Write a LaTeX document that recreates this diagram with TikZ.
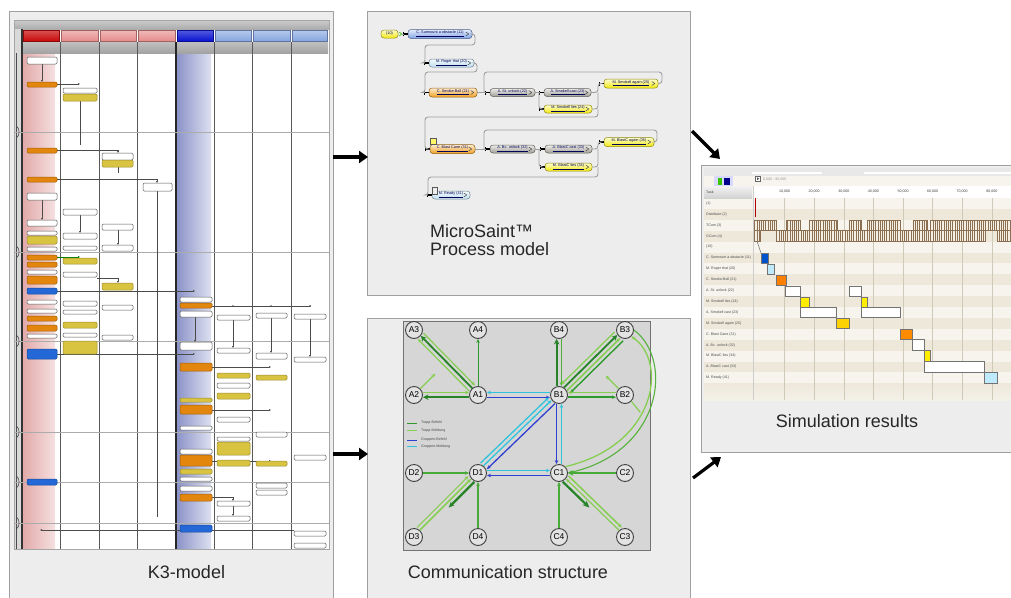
\documentclass[tikz,border=0pt]{standalone}
\usepackage{fontspec}
\setmainfont{Liberation Sans}
\usetikzlibrary{arrows.meta,calc,patterns.meta}

\definecolor{panelbg}{HTML}{EDEDED}
\definecolor{panelbd}{HTML}{A0A0A0}
\definecolor{korange}{HTML}{E2860E}
\definecolor{kyellow}{HTML}{D9C441}
\definecolor{kblue}{HTML}{2468D8}
\definecolor{kline}{HTML}{4A4A4A}
\definecolor{hdrR}{HTML}{C80A0A}
\definecolor{hdrr}{HTML}{E68C8C}
\definecolor{hdrB}{HTML}{0A14D0}
\definecolor{hdrb}{HTML}{86A6E0}
\definecolor{kpl}{HTML}{E2AAAA}
\definecolor{kpr}{HTML}{F6E0E0}
\definecolor{kbl}{HTML}{8C94C8}
\definecolor{kbr}{HTML}{DDE0F0}
\definecolor{tbC}{HTML}{2E9A2E}
\definecolor{tmC}{HTML}{86CE50}
\definecolor{gbC}{HTML}{2F3FD0}
\definecolor{gmC}{HTML}{30C4DC}
\definecolor{msgray}{HTML}{A09E94}
\definecolor{msorange}{HTML}{F0A020}
\definecolor{msyellow}{HTML}{F2EA10}
\definecolor{msblue}{HTML}{7EA2E6}
\definecolor{mslblue}{HTML}{BFE0F0}
\definecolor{beige}{HTML}{EDE8DA}
\definecolor{gridc}{HTML}{CFC9B8}
\definecolor{hatch}{HTML}{8C6E50}

\begin{document}
\begin{tikzpicture}[x=1pt,y=-1pt,
  panel/.style={fill=panelbg, draw=panelbd, line width=1pt},
  captext/.style={font=\fontsize{18}{20}\selectfont, text=black!85, inner sep=0pt},
  bigarrow/.style={line width=3.2pt, -{Triangle[length=9pt,width=12pt]}},
  kw/.style={draw=gray!70!black, fill=white, line width=0.5pt, rounded corners=1.2pt},
  ko/.style={draw=korange!70!black, fill=korange, line width=0.5pt, rounded corners=1.2pt},
  ky/.style={draw=kyellow!70!black, fill=kyellow, line width=0.5pt, rounded corners=1.2pt},
  kb/.style={draw=kblue!70!black, fill=kblue, line width=0.5pt, rounded corners=1.2pt},
  kconn/.style={draw=kline, line width=0.5pt, -{Latex[length=2pt,width=2pt]}},
  msnode/.style={draw=#1!60!black, top color=#1!20!white, bottom color=#1, rounded corners=3pt,
     inner sep=0pt, font=\fontsize{3.8}{4}\selectfont, text=blue!35!black, line width=0.5pt},
  msline/.style={draw=gray!75, line width=0.9pt, rounded corners=3pt},
  cnode/.style={circle, draw=black!75, fill=gray!22, line width=0.9pt, minimum size=17pt, inner sep=0pt,
     font=\fontsize{8.5}{9}\selectfont},
  eA/.style={-{Stealth[length=4pt,width=3.5pt]}},
  tb/.style={eA, draw=tbC, line width=1.4pt},
  tbT/.style={draw=tbC!85!black, line width=2.2pt, -{Stealth[length=5.5pt,width=5.5pt]}},
  tm/.style={eA, draw=tmC, line width=1.2pt},
  gb/.style={eA, draw=gbC, line width=1.3pt},
  gm/.style={eA, draw=gmC, line width=1.3pt},
  simlab/.style={anchor=west, inner sep=0pt, font=\fontsize{3.6}{4}\selectfont, text=black!70},
  gbox/.style={draw=black!55, line width=0.7pt}
]
\useasboundingbox (0,0) rectangle (1011,597);
\fill[white] (0,0) rectangle (1011,597);

%%%%%%%%%%%%%%%% K3 panel
\draw[panel] (9,11) rectangle (333,612);
\fill[white] (14,20) rectangle (329,549);
\shade[top color=gray!40, bottom color=gray!65] (14,20) rectangle (329,29);
\fill[gray!30] (14,29) rectangle (22,549);
\shade[left color=kpl, right color=kpr] (23,53) rectangle (55,549);
\shade[left color=kbl, right color=kbr] (177,53) rectangle (211,549);
\foreach \xa/\xb/\ca/\cb in {22/60/hdrR/hdrR!70!white, 60/99/hdrr/hdrr!60!white, 99/137/hdrr/hdrr!60!white,
   137/176/hdrr/hdrr!60!white, 176/214/hdrB/hdrB!70!white, 214/252/hdrb/hdrb!60!white,
   252/291/hdrb/hdrb!60!white, 291/328/hdrb/hdrb!60!white}
  \shade[top color=\cb, bottom color=\ca, draw=\ca!70!black, line width=0.4pt] (\xa+1,30) rectangle (\xb-1,41);
\shade[top color=gray!50, bottom color=gray!72] (22,42) rectangle (328,53);
\foreach \x in {60,99,137,214,252,291}
  \draw[black!65, line width=1pt] (\x,42) -- (\x,549);
\draw[black!80, line width=1.4pt] (22,29) -- (22,549);
\draw[black!85, line width=1.4pt] (176,42) -- (176,549);
\draw[gray!60!black, line width=0.8pt] (16.5,53) -- (16.5,549);
\foreach \y in {132,252,341,432,482,523}{
  \draw[gray!65, line width=0.7pt] (14,\y) -- (329,\y);
  \draw[gray!60!black, line width=0.6pt] (16.5,\y-6) .. controls (20,\y-3) and (20,\y+3) .. (16.5,\y+6);
}
\draw[gray!70] (14,20) rectangle (329,549);

% K3 connectors
\draw[kconn] (42,64) -- (42,82);
\draw[kconn] (57,84) -- (80,84);
\draw[kline, line width=0.5pt] (80,101) -- (80,145);
\draw[kconn] (57,150) -- (118,150) -- (118,153);
\draw[kline, line width=0.5pt] (118,167) -- (118,173);
\draw[kconn] (57,179) -- (157,179) -- (157,183);
\draw[kline, line width=0.5pt] (157,191) -- (157,517);
\draw[kconn] (42,200) -- (42,220);
\draw[kconn] (80,215) -- (80,233);
\draw[kconn] (118,230) -- (118,245);
\draw[kconn, draw=green!50!black] (57,257) -- (80,257);
\draw[kconn] (97,278) -- (118,278) -- (118,283);
\draw[kconn] (57,291) -- (195,291);
\draw[kconn] (195,317) -- (195,342);
\draw[kline, line width=0.5pt] (212,306) -- (310,306);
\foreach \x in {233,271,310} \fill[kline] (\x,306) circle (1pt);
\draw[kconn] (233,320) -- (233,348);
\draw[kconn] (271,318) -- (271,353);
\draw[kconn] (310,319) -- (310,357);
\draw[kconn] (57,354) -- (195,354);
\draw[kconn] (212,367) -- (271,367);
\draw[kconn] (212,410) -- (271,410);
\draw[kconn] (212,461) -- (271,461);
\draw[kconn] (212,497) -- (233,497) -- (233,501);
\draw[kconn] (233,506) -- (233,516);
\draw[kconn] (294,530) -- (40,530);

% K3 boxes
\foreach \a/\b/\c/\d/\st in {
 27/57/57/64/kw, 27/82/57/87/ko, 27/148/57/153/ko, 27/177/57/182/ko, 27/193/57/200/kw,
 27/220/57/226/kw, 27/231/57/235/kw, 27/236/57/244/ky, 27/247/57/251/kw, 27/255/57/260/ko,
 27/262/57/267/ko, 27/270/57/274/kw, 27/276/57/284/ko, 27/288/57/294/kb, 27/300/57/304/kw,
 27/309/57/313/kw, 27/316/57/321/ko, 27/325/57/331/ko, 27/334/57/338/kw, 27/349/57/359/kb,
 27/479/57/485/kb,
 63/88/97/93/kw, 63/94/97/101/ky, 63/209/97/215/kw, 63/233/97/239/kw, 63/246/97/250/kw,
 63/258/97/264/ky, 63/272/97/277/kw, 63/301/97/306/kw, 63/310/97/314/kw, 63/322/97/328/ky,
 63/333/97/337/kw, 63/341/97/354/ky,
 102/153/133/160/kw, 102/160/133/167/ky, 102/224/133/230/kw, 102/245/133/251/kw,
 102/283/133/290/ky, 102/305/133/310/kw, 102/335/133/340/kw,
 143/183/172/191/kw,
 180/297/212/302/kw, 180/303/212/308/ko, 180/311/212/317/kw, 180/342/212/350/kw,
 180/363/212/371/ko, 180/398/212/402/ky, 180/405/212/414/ko, 180/426/212/430/kw,
 180/449/212/454/kw, 180/455/212/466/ko, 180/469/212/474/ky, 180/477/212/481/kw,
 180/486/212/491/kw, 180/494/212/501/ko, 180/525/212/532/kb,
 217/315/250/320/kw, 217/348/250/353/kw, 217/373/250/378/ky, 217/383/250/388/kw,
 217/393/250/399/ky, 217/417/250/422/kw, 217/437/250/441/kw, 217/442/250/455/ky,
 217/460/250/466/ky, 217/501/250/506/kw, 217/516/250/521/kw,
 256/313/287/318/kw, 256/353/287/359/kw, 256/375/287/380/ky, 256/432/287/437/kw,
 256/461/287/466/ky, 256/483/287/488/kw, 256/490/287/495/kw,
 294/314/326/319/kw, 294/357/326/362/kw, 294/455/326/460/kw, 294/531/326/536/kw,
 294/543/326/548/kw}
 \path[\st] (\a,\b) rectangle (\c,\d);

\node[captext, anchor=base] (k3cap) at (186.5,578) {K3-model};

%%%%%%%%%%%%%%%% MicroSaint panel
\draw[panel] (367,11) rectangle (690,295);
\node[msnode=msyellow, minimum width=17pt, minimum height=8pt] (s10) at (389.5,34) {(10)};
\node[msnode=msblue, minimum width=64pt, minimum height=9pt] (s11) at (440,34) {\underline{C. Surmount a obstacle (11)}\hspace{6pt}};
\node[msnode=mslblue, minimum width=45pt, minimum height=8pt] (s20) at (451.5,63) {\underline{M. Roger that (20)}\hspace{6pt}};
\node[msnode=msorange, minimum width=48pt, minimum height=9pt] (s21) at (453,92.5) {\underline{C. Smoke-Ball (21)}\hspace{6pt}};
\node[msnode=msgray, minimum width=45pt, minimum height=8pt] (s22) at (512.5,92.5) {\underline{A. St. unlock (22)}\hspace{6pt}};
\node[msnode=msgray, minimum width=47pt, minimum height=8pt] (s23) at (567.5,92.5) {\underline{A. Smokell cast (23)}\hspace{6pt}};
\node[msnode=msyellow, minimum width=48pt, minimum height=8pt] (s24) at (568,109) {\underline{M. Smokell lies (24)}\hspace{6pt}};
\node[msnode=msyellow, minimum width=54pt, minimum height=9pt] (s25) at (631,83.5) {\underline{M. Smokell again (25)}\hspace{6pt}};
\node[msnode=msorange, minimum width=45pt, minimum height=9pt] (s31) at (452.5,149) {\underline{C. Blast Cane (31)}\hspace{6pt}};
\node[msnode=msgray, minimum width=45pt, minimum height=8pt] (s32) at (512.5,149) {\underline{A. Bc. unlock (32)}\hspace{6pt}};
\node[msnode=msgray, minimum width=47pt, minimum height=8pt] (s33) at (568.5,149) {\underline{A. BlastC cast (33)}\hspace{6pt}};
\node[msnode=msyellow, minimum width=47pt, minimum height=8pt] (s34) at (568.5,167) {\underline{M. BlastC lies (34)}\hspace{6pt}};
\node[msnode=msyellow, minimum width=50pt, minimum height=9pt] (s35) at (629,142) {\underline{M. BlastC again (35)}\hspace{6pt}};
\node[msnode=mslblue, minimum width=38pt, minimum height=8pt] (s41) at (451,195) {\underline{M. Ready (41)}\hspace{6pt}};

\foreach \n in {s11,s20,s21,s22,s23,s24,s25,s31,s32,s33,s34,s35,s41}{
  \draw[gray!60!black, line width=0.5pt] ([xshift=-6.5pt,yshift=2pt]\n.east) -- ([xshift=-3.5pt]\n.east) -- ([xshift=-6.5pt,yshift=-2pt]\n.east);
  \draw[black, line width=1.1pt] ([xshift=-4pt]\n.west) -- (\n.west);
  \draw[black, line width=0.8pt] ([xshift=-4pt,yshift=-2pt]\n.west) -- ([xshift=-4pt,yshift=2pt]\n.west);
}
\draw[green!50!olive, line width=0.6pt] ([xshift=1pt,yshift=2pt]s10.east) -- ([xshift=3.5pt]s10.east) -- ([xshift=1pt,yshift=-2pt]s10.east);

\draw[msline] ([xshift=4pt]s10.east) -- ([xshift=-4pt]s11.west);
\draw[msline] (s11.east) -- (475,34) -- (475,45) -- (425,45) -- (425,63) -- ([xshift=-4pt]s20.west);
\draw[msline] (s20.east) -- (477,63) -- (477,72) -- (425,72) -- (425,92.5) -- ([xshift=-4pt]s21.west);
\draw[msline] (s21.east) -- ([xshift=-4pt]s22.west);
\draw[msline] (484,92.5) -- (484,72) -- (662,72) -- (662,83.5) -- (s25.east);
\draw[msline] (s22.east) -- ([xshift=-4pt]s23.west);
\draw[msline] (539,92.5) -- (539,109) -- ([xshift=-4pt]s24.west);
\draw[msline] (s23.east) -- (598,92.5) -- (598,83.5) -- ([xshift=-4pt]s25.west);
\draw[msline] (s24.east) -- (598,109) -- (598,92.5);
\draw[msline] (598,109) -- (598,117) -- (425,117) -- (425,149) -- ([xshift=-4pt]s31.west);
\draw[msline] (s31.east) -- ([xshift=-4pt]s32.west);
\draw[msline] (484,149) -- (484,130) -- (657,130) -- (657,142) -- (s35.east);
\draw[msline] (s32.east) -- ([xshift=-4pt]s33.west);
\draw[msline] (539,149) -- (539,167) -- ([xshift=-4pt]s34.west);
\draw[msline] (s33.east) -- (598,149) -- (598,142) -- ([xshift=-4pt]s35.west);
\draw[msline] (s34.east) -- (598,167) -- (598,149);
\draw[msline] (598,167) -- (598,177) -- (428,177) -- (428,195) -- ([xshift=-4pt]s41.west);
\draw[fill=yellow!60, draw=gray!70!black, line width=0.4pt] (430,138) rectangle (436,144.5);
\draw[fill=gray!15, draw=gray!70!black, line width=0.4pt] (432,187.5) rectangle (437,194);

\node[captext, anchor=base west] (mscap1) at (430,237) {MicroSaint™};
\node[captext, anchor=base west] (mscap2) at (430,255) {Process model};

%%%%%%%%%%%%%%%% Communication panel
\draw[panel] (367,318) rectangle (690,612);
\fill[gray!32] (403,321) rectangle (650,550);
\draw[black!55, line width=0.8pt] (403,321) rectangle (650,550);

\node[cnode] (A3) at (414,330) {A3};
\node[cnode] (A4) at (478,330) {A4};
\node[cnode] (B4) at (559,330) {B4};
\node[cnode] (B3) at (625,330) {B3};
\node[cnode] (A2) at (414,395) {A2};
\node[cnode] (A1) at (478,395) {A1};
\node[cnode] (B1) at (559,395) {B1};
\node[cnode] (B2) at (625,395) {B2};
\node[cnode] (D2) at (414,473) {D2};
\node[cnode] (D1) at (478,473) {D1};
\node[cnode] (C1) at (559,473) {C1};
\node[cnode] (C2) at (625,473) {C2};
\node[cnode] (D3) at (414,537) {D3};
\node[cnode] (D4) at (478,537) {D4};
\node[cnode] (C4) at (559,537) {C4};
\node[cnode] (C3) at (625,537) {C3};

% A group
\draw[tm, transform canvas={yshift=2.5pt}] (A2) -- (A1);
\draw[tbT, transform canvas={yshift=-2.2pt}] (A1) -- (A2);
\draw[tm, transform canvas={shift={(3.2pt,3.2pt)}}] (A3) -- (A1);
\draw[tbT, line width=1.8pt, transform canvas={shift={(0.5pt,0.5pt)}}] (A1) -- (A3);
\draw[tm, transform canvas={shift={(-2.5pt,-2.5pt)}}] (A1) -- (A3);
\draw[tm] (A2.north east) -- ++(15,-15);
\draw[tb, line width=1pt] (A1) -- (A4);
% A1-B1
\draw[gm, transform canvas={yshift=2.5pt}] (B1) -- (A1);
\draw[gb, transform canvas={yshift=-2.5pt}] (A1) -- (B1);
% B group
\draw[tbT, transform canvas={xshift=-2.4pt}] (B1) -- (B4);
\draw[tb, draw=tbC!60!tmC, line width=1.8pt, transform canvas={xshift=2.4pt}] (B4) -- (B1);
\draw[tm, transform canvas={shift={(-4.2pt,4.2pt)}}] (B3) -- (B1);
\draw[tbT, line width=1.8pt, transform canvas={shift={(-1.3pt,1.3pt)}}] (B1) -- (B3);
\draw[tm, line width=1.5pt, transform canvas={shift={(1.7pt,-1.7pt)}}] (B1) -- (B3);
\draw[tb, transform canvas={shift={(4.5pt,-4.5pt)}}] (B3) -- (B1);
\draw[tm] (B2.north west) -- ++(-13,-13);
\draw[tm, transform canvas={yshift=2.5pt}] (B2) -- (B1);
\draw[tb, line width=1.6pt, transform canvas={yshift=-2.2pt}] (B1) -- (B2);
% B1-C1, B1-D1, D1-C1
\draw[gb, transform canvas={xshift=-2.5pt}] (B1) -- (C1);
\draw[gm, transform canvas={xshift=2.5pt}] (C1) -- (B1);
\draw[gm, transform canvas={shift={(-3.8pt,3.8pt)}}] (D1) -- (B1);
\draw[gm, transform canvas={shift={(-1pt,1pt)}}] (D1) -- (B1);
\draw[gb, transform canvas={shift={(2.4pt,-2.4pt)}}] (B1) -- (D1);
\draw[gm, transform canvas={yshift=2.5pt}] (D1) -- (C1);
\draw[gb, transform canvas={yshift=-2.5pt}] (C1) -- (D1);
% arc B3 - C1
\draw[tm, line width=1.3pt] (C1.north east) .. controls (657,445) and (668,362) .. (B3.south east);
\draw[tm, draw=tbC!55!tmC, line width=1.1pt] (B3.east) .. controls (674,360) and (662,452) .. (C1.east);
\draw[tm, -] (B2.south east) -- ++(9,11);
% C group
\draw[tbT, draw=tbC!70!tmC, line width=1.9pt] (C2) -- (C1);
\draw[tbT, -{Stealth[length=7pt,width=6pt]}, transform canvas={shift={(-2.6pt,-2.6pt)}}] (C1) -- ($(C1)!0.5!(C3)$);
\draw[tm, transform canvas={shift={(0.5pt,0.5pt)}}] (C3) -- (C1);
\draw[tm, line width=1.5pt, transform canvas={shift={(3.2pt,3.2pt)}}] (C1) -- (C3);
\draw[tb, draw=tbC!70!tmC, line width=1.6pt] (C4) -- (C1);
% D group
\draw[tb, draw=tbC!70!tmC, line width=1.6pt] (D2) -- (D1);
\draw[tb, draw=tbC!70!tmC, line width=1.6pt] (D4) -- (D1);
\draw[tm, transform canvas={shift={(-3.2pt,3.2pt)}}] (D3) -- (D1);
\draw[tm, line width=1.5pt, transform canvas={shift={(-0.5pt,0.5pt)}}] (D3) -- (D1);
\draw[tbT, -{Stealth[length=6pt,width=5pt]}, transform canvas={shift={(2.6pt,-2.6pt)}}] (D1) -- ($(D1)!0.5!(D3)$);

% legend
\foreach \y/\c/\t [count=\i] in {423/tbC/Trupp-Befehl, 430.5/tmC/Trupp-Meldung, 440/gbC/Gruppen-Befehl, 446.5/gmC/Gruppen-Meldung}{
  \draw[\c, line width=0.9pt] (407,\y) -- (417,\y);
  \node[simlab] (lg\i) at (421,\y) {\t};
}

\node[captext, anchor=base] (cmcap) at (508,578) {Communication structure};

%%%%%%%%%%%%%%%% Simulation panel
\draw[panel] (701,165) rectangle (1016,452);
\fill[beige!50!white] (704,168) rectangle (1011,400);
\fill[gray!18] (704,168) rectangle (1011,176);
\fill[white] (752,171.5) rectangle (822,174);
\fill[white] (864,171.5) rectangle (1011,174);
\fill[blue!15] (714,175.5) rectangle (733,186);
\fill[green!55!olive] (718,178) rectangle (722,185);
\fill[blue!55!black] (724,178) rectangle (730,185);
\shade[top color=gray!10, bottom color=gray!35] (704,186) rectangle (752,198);
\fill[white] (754,186) rectangle (1011,198);
\draw[black!60, fill=white, line width=0.4pt] (755,176) rectangle (760.5,181.5);
\fill[black!70] (757,177.3) -- (759.2,178.75) -- (757,180.2) -- cycle;
\node[simlab, text=black!40] (range) at (763,179) {0,000 - 95,000};
\node[simlab] (task) at (706,192) {Task};

\foreach \i in {1,3,...,15}
  \fill[beige] (704,{198+10.9*\i}) rectangle (1011,{198+10.9*(\i+1)});
\shade[top color=beige, bottom color=beige!60!white] (704,383.3) rectangle (1011,400);
\draw[gray!40, line width=0.5pt] (753,186) -- (753,400);

\foreach \lab [count=\i from 0] in {{(1)}, {Distribute (2)}, {TCom (3)}, {GCom (4)}, {(10)},
   {C. Surmount a obstacle (11)}, {M. Roger that (20)}, {C. Smoke-Ball (21)}, {A. St. unlock (22)},
   {M. Smokell lies (24)}, {A. Smokell cast (23)}, {M. Smokell again (25)}, {C. Blast Cane (31)},
   {A. Bc. unlock (32)}, {M. BlastC lies (34)}, {A. BlastC cast (33)}, {M. Ready (41)}}
  \node[simlab] (r\i) at (706,{198+10.9*\i+5.45}) {\lab};

\foreach \k/\t in {1/10,2/20,3/30,4/40,5/50,6/60,7/70,8/80}{
  \draw[gridc, line width=0.6pt] ({755+29.6*\k},198) -- ({755+29.6*\k},400);
  \node[simlab, anchor=center, text=black!75] (ax\k) at ({755+29.6*\k},191.5) {\t,000};
}

% TCom / GCom hatched blocks
\draw[black!55, line width=0.5pt] (754,230.5) -- (1011,230.5);
\foreach \a/\b in {754/776, 786/800, 809/837, 849/861, 867/900, 913/927, 930/1011}{
  \fill[beige!70!white] (\a,220) rectangle (\b,230.5);
  \path[pattern={Lines[angle=90,distance=2.2pt,line width=0.35pt]}, pattern color=hatch] (\a,220) rectangle (\b,230.5);
  \draw[hatch, line width=0.4pt] (\a,220) rectangle (\b,230.5);
}
\foreach \a/\b in {754/760, 776/985, 997/1011}{
  \fill[beige!70!white] (\a,230.5) rectangle (\b,241);
  \path[pattern={Lines[angle=90,distance=2.2pt,line width=0.35pt]}, pattern color=hatch] (\a,230.5) rectangle (\b,241);
  \draw[hatch, line width=0.4pt] (\a,230.5) rectangle (\b,241);
}
\draw[red!70!black, line width=0.9pt] (755,198) -- (755,217);
\draw[black!55, line width=0.5pt] (757,241) -- (761,253);

% Gantt bars
\foreach \a/\b/\c/\d/\col in {761/253/768/263/{blue!60!cyan!80!black}, 767/264/774/274/{cyan!25!white},
   776/275/786/285/{orange}, 785/286/800/296/white, 849/286/861/296/white,
   800/297/809/307/{yellow!95!orange}, 861/297/867/307/{yellow!95!orange},
   800/307/836/317/white, 861/307/900/317/white, 836/318/849/328/{yellow!70!orange},
   900/329/912/339/{orange!90!yellow}, 912/339/924/350/white, 924/350/930/361/{yellow!95!orange},
   924/361/984/372/white, 984/372/997/383/{cyan!25!white}}
  \draw[gbox, fill=\col] (\a,\b) rectangle (\c,\d);

\node[captext, anchor=base] (smcap) at (847,427) {Simulation results};

%%%%%%%%%%%%%%%% arrows between panels
\coordinate (k3o1) at (333,157);
\coordinate (msi) at (368,157);
\coordinate (k3o2) at (333,454);
\coordinate (cmi) at (368,454);
\coordinate (mso) at (692,131);
\coordinate (smi1) at (720,159);
\coordinate (cmo) at (693,478);
\coordinate (smi2) at (721,457);
\draw[bigarrow] (k3o1) -- (msi);
\draw[bigarrow] (k3o2) -- (cmi);
\draw[bigarrow] (mso) -- (smi1);
\draw[bigarrow] (cmo) -- (smi2);
\end{tikzpicture}
\end{document}
